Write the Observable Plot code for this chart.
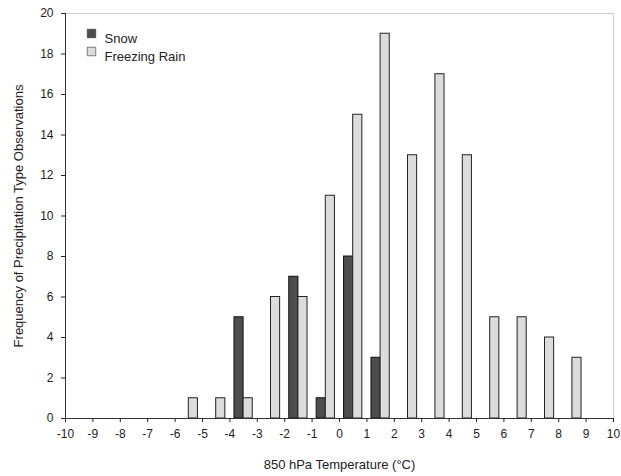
<!DOCTYPE html>
<html><head><meta charset="utf-8">
<script src="https://cdn.jsdelivr.net/npm/d3@7"></script>
<script src="https://cdn.jsdelivr.net/npm/@observablehq/plot@0.6"></script>
<style>
body{margin:0;background:#fff;}
#chart svg{font-family:"Liberation Sans",Arial,sans-serif;}
</style>
</head><body><div id="chart"></div>
<script>
// Data
const binCenters = [-5.5,-4.5,-3.5,-2.5,-1.5,-0.5,0.5,1.5,2.5,3.5,4.5,5.5,6.5,7.5,8.5];
const freezingRainCounts = [1,1,1,6,6,11,15,19,13,17,13,5,5,4,3];
const snowBins = [-3.5,-1.5,-0.5,0.5,1.5];
const snowCounts = [5,7,1,8,3];
const xTicks = d3.range(-10, 11, 1);
const yTicks = d3.range(0, 21, 2);
const seriesNames = ["Snow", "Freezing Rain"];
const seriesColors = ["#4d4d4d", "#dcdcdc"];
const xLabel = "850 hPa Temperature (°C)";
const yLabel = "Frequency of Precipitation Type Observations";

const binW = 1/3;
const snow = snowBins.map((c, i) => ({c, v: snowCounts[i]}));
const fr = binCenters.map((c, i) => ({c, v: freezingRainCounts[i]}));
const legendMarks = seriesNames.flatMap((name, i) => [
  Plot.dot([name], {frameAnchor: "top-left", dx: 26, dy: 20 + i * 18, symbol: "square", r: 4.8, fill: seriesColors[i], stroke: "#333", strokeWidth: 0.6}),
  Plot.text([name], {frameAnchor: "top-left", dx: 39, dy: 20 + i * 18, text: d => d, textAnchor: "start", fontSize: 13, fill: "#222"})
]);

const chart = Plot.plot({
  width: 621,
  height: 476,
  marginLeft: 65,
  marginRight: 8,
  marginTop: 13,
  marginBottom: 58,
  style: {fontSize: "12px", color: "#222", background: "#fff"},
  x: {domain: [-10, 10], ticks: xTicks, label: null},
  y: {domain: [0, 20], ticks: yTicks, label: null},
  marks: [
    Plot.frame({stroke: "#999", strokeDasharray: "1,1"}),
    Plot.rectY(snow, {x1: d => d.c - binW, x2: d => d.c, y: "v", fill: seriesColors[0], stroke: "#111", strokeWidth: 1}),
    Plot.rectY(fr, {x1: d => d.c, x2: d => d.c + binW, y: "v", fill: seriesColors[1], stroke: "#222", strokeWidth: 1}),
    Plot.ruleY([0], {stroke: "#333"}),
    Plot.ruleX([-10], {stroke: "#333"}),
    Plot.axisX({ticks: xTicks, tickFormat: d => String(d), tickSize: 4, tickPadding: 7, fontSize: 12}),
    Plot.axisX({ticks: [], label: xLabel, labelAnchor: "center", labelArrow: "none", labelOffset: 50, fontSize: 13, tickSize: 0}),
    Plot.axisY({ticks: yTicks, tickFormat: d => String(d), tickSize: 4, tickPadding: 8, fontSize: 12}),
    Plot.axisY({ticks: [], label: yLabel, labelAnchor: "center", labelArrow: "none", labelOffset: 52, fontSize: 13, tickSize: 0}),
    ...legendMarks
  ]
});
document.getElementById("chart").appendChild(chart);
</script>
</body></html>
